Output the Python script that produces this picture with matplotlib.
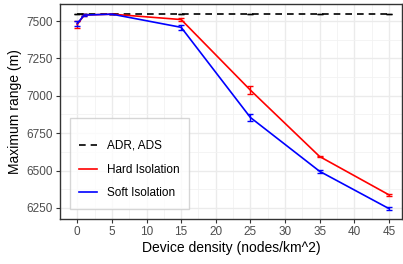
import matplotlib
matplotlib.use("Agg")
import matplotlib.pyplot as plt
from matplotlib.ticker import MultipleLocator

# device density (nodes/km^2)
density = [0, 1, 5, 15, 25, 35, 45]

adr_range = [7548, 7548, 7548, 7548, 7548, 7548, 7548]
adr_err = [0, 0, 0, 0, 0, 2, 2]

hard_range = [7478, 7540, 7546, 7510, 7038, 6594, 6338]
hard_err = [22, 4, 2, 12, 25, 6, 6]

soft_range = [7484, 7540, 7546, 7458, 6855, 6495, 6246]
soft_err = [18, 4, 2, 15, 22, 8, 7]

plt.rcParams['font.family'] = ['Liberation Sans', 'DejaVu Sans']

fig = plt.figure(figsize=(4.03, 2.64), dpi=100)
ax = fig.add_axes([60/403, 45/264, 342/403, 215/264])

ax.set_axisbelow(True)
ax.xaxis.set_major_locator(MultipleLocator(5))
ax.xaxis.set_minor_locator(MultipleLocator(2.5))
ax.yaxis.set_major_locator(MultipleLocator(250))
ax.yaxis.set_minor_locator(MultipleLocator(125))
ax.grid(True, which='major', color='#ebebeb', lw=1.0)
ax.grid(True, which='minor', color='#f2f2f2', lw=0.6)

ax.errorbar(density, adr_range, yerr=adr_err, color='black', ls='--', lw=1.2,
            capsize=2.2, elinewidth=1, dashes=(4, 3), label='ADR, ADS')
ax.errorbar(density, hard_range, yerr=hard_err, color='#ff0000', lw=1.2,
            capsize=2.2, elinewidth=1, label='Hard Isolation')
ax.errorbar(density, soft_range, yerr=soft_err, color='#0000ff', lw=1.2,
            capsize=2.2, elinewidth=1, label='Soft Isolation')

ax.set_xlim(-2.5, 46.9)
ax.set_ylim(6176, 7614)

for s in ax.spines.values():
    s.set_color('#333333')
    s.set_linewidth(1.0)
ax.tick_params(which='major', length=3, color='#333333', labelsize=8.5, labelcolor='#4d4d4d', pad=2)
ax.tick_params(which='minor', length=0)

ax.set_xlabel('Device density (nodes/km^2)', fontsize=10, labelpad=2)
ax.set_ylabel('Maximum range (m)', fontsize=10, labelpad=3)

handles, labels = ax.get_legend_handles_labels()
handles = [h[0] for h in handles]
leg = ax.legend(handles, labels, loc='lower left', bbox_to_anchor=(0.029, 0.047),
                borderaxespad=0, fontsize=8.5, frameon=True, fancybox=False,
                title=' ', title_fontsize=1.5,
                handlelength=1.5, labelspacing=1.0, borderpad=0.8, handletextpad=0.85)
leg.get_frame().set_edgecolor('#cccccc')
leg.get_frame().set_linewidth(1.0)

fig.savefig('out.png', dpi=100)
